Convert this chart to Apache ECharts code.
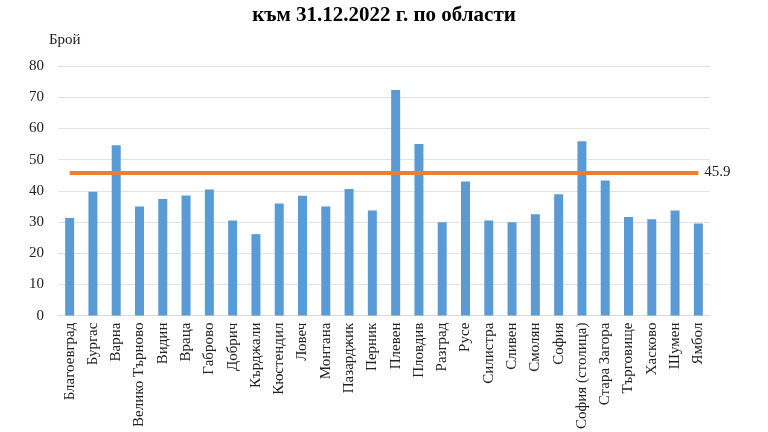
<!DOCTYPE html>
<html><head><meta charset="utf-8">
<script src="https://cdn.jsdelivr.net/npm/echarts@6/dist/echarts.min.js"></script>
<style>html,body{margin:0;padding:0;background:#fff}#c{width:768px;height:432px}</style>
</head><body><div id="c"></div>
<script>
const titleText = 'към 31.12.2022 г. по области';
const yAxisName = 'Брой';
const categories = ['Благоевград','Бургас','Варна','Велико Търново','Видин','Враца','Габрово','Добрич','Кърджали','Кюстендил','Ловеч','Монтана','Пазарджик','Перник','Плевен','Пловдив','Разград','Русе','Силистра','Сливен','Смолян','София','София (столица)','Стара Загора','Търговище','Хасково','Шумен','Ямбол'];
const values = [31.3,39.7,54.6,35.0,37.4,38.5,40.4,30.5,26.1,35.9,38.4,35.0,40.6,33.7,72.3,55.0,29.9,43.0,30.5,29.9,32.5,38.9,55.9,43.3,31.6,30.9,33.7,29.5];
const averageValue = 45.9;
const yTicks = [0,10,20,30,40,50,60,70,80];

const font = 'Liberation Serif, Times New Roman, serif';
const chart = echarts.init(document.getElementById('c'));
chart.setOption({
  animation: false,
  title: { text: titleText, left: 'center', top: 0, textStyle: { fontFamily: font, fontSize: 21, fontWeight: 'bold', color: '#000' } },
  grid: { left: 58, right: 58, top: 66, bottom: 116 },
  xAxis: {
    type: 'category', data: categories,
    axisLine: { lineStyle: { color: '#D9D9D9' } },
    axisTick: { show: false },
    axisLabel: { rotate: 90, interval: 0, margin: 7, fontFamily: font, fontSize: 15, color: '#222' }
  },
  yAxis: {
    type: 'value', min: yTicks[0], max: yTicks[yTicks.length-1], interval: 10,
    name: yAxisName, nameLocation: 'end', nameGap: 18,
    nameTextStyle: { fontFamily: font, fontSize: 15, color: '#222', align: 'left', padding: [0,0,0,-9] },
    axisLine: { show: false }, axisTick: { show: false },
    axisLabel: { fontFamily: font, fontSize: 15, color: '#222', margin: 14 },
    splitLine: { lineStyle: { color: '#E3E3E3', width: 1 } }
  },
  series: [{
    type: 'bar', data: values, barWidth: 9,
    itemStyle: { color: '#5B9BD5' },
    markLine: {
      symbol: 'none', silent: true,
      lineStyle: { color: '#ED7D31', width: 4, type: 'solid' },
      label: { show: true, position: 'end', formatter: String(averageValue), fontFamily: font, fontSize: 15, color: '#222', distance: 6 },
      data: [[ { coord: [categories[0], averageValue] }, { coord: [categories[categories.length-1], averageValue] } ]]
    }
  }]
});
</script></body></html>
